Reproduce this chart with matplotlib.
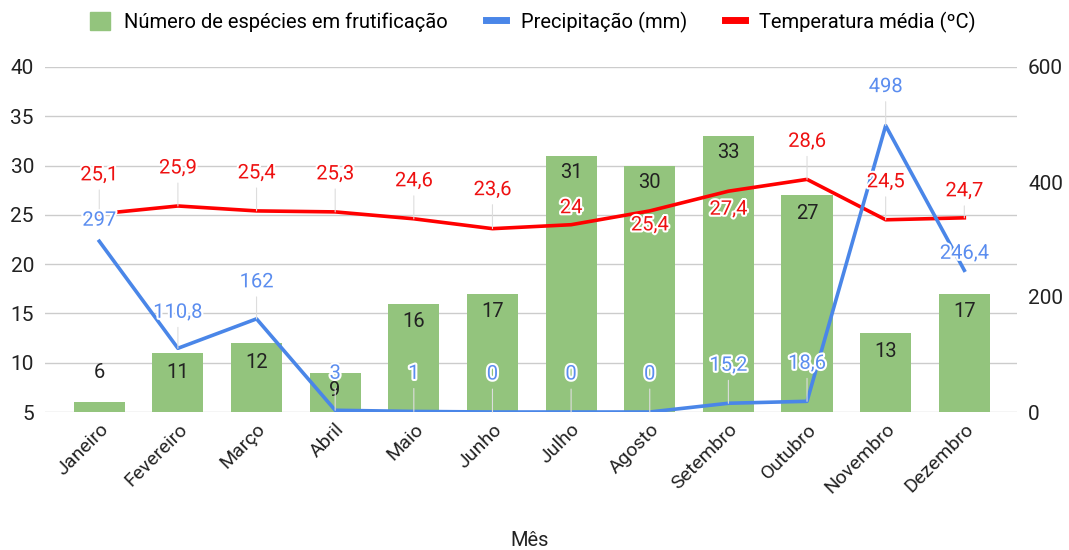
import matplotlib
matplotlib.use("Agg")
import matplotlib.pyplot as plt
import matplotlib.patheffects as pe
from matplotlib.lines import Line2D
from matplotlib.patches import Patch

plt.rcParams['font.family'] = ['Roboto', 'DejaVu Sans']

meses = ["Janeiro", "Fevereiro", "Março", "Abril", "Maio", "Junho", "Julho",
         "Agosto", "Setembro", "Outubro", "Novembro", "Dezembro"]
especies = [6, 11, 12, 9, 16, 17, 31, 30, 33, 27, 13, 17]
precipitacao = [297, 110.8, 162, 3, 1, 0, 0, 0, 15.2, 18.6, 498, 246.4]
temperatura = [25.1, 25.9, 25.4, 25.3, 24.6, 23.6, 24, 25.4, 27.4, 28.6, 24.5, 24.7]

# label offsets (pixels, positive = up)
off_bar = [30, -20, -20, -18, -18, -18, -17, -17, -17, -18, -18, -18]
off_temp = [39, 38, 38, 38, 38, 39, 17, -14, -18, 38, 38, 27]
off_prec = [21, 36, 37, 37, 38, 38, 38, 38, 38, 38, 39, 17]

GREEN = '#93c47d'
BLUE = '#4a86e8'
RED = '#ff0000'
GRID = '#cccccc'
FS = 14.5

fig = plt.figure(figsize=(10.69, 5.5), dpi=100)
ax = fig.add_axes([45/1069, (550-412)/550, (1017-45)/1069, (412-67)/550])
ax2 = ax.twinx()

x = list(range(len(meses)))
ax.bar(x, [e - 5 for e in especies], bottom=5, width=0.65, color=GREEN, zorder=2)
ax.plot(x, temperatura, color=RED, lw=2.6, zorder=4, solid_joinstyle='round')
ax2.plot(x, precipitacao, color=BLUE, lw=2.6, zorder=4, solid_joinstyle='round')

ax.set_ylim(5, 40)
ax2.set_ylim(0, 600)
ax.set_xlim(-0.69, 11.67)
ax.set_yticks(range(5, 41, 5))
ax2.set_yticks([0, 200, 400, 600])
ax.grid(axis='y', color=GRID, lw=1, zorder=0)
ax.set_axisbelow(True)
for a in (ax, ax2):
    for s in a.spines.values():
        s.set_visible(False)
    a.tick_params(length=0, labelsize=15, colors='#222222')
ax.tick_params(axis='y', pad=8)
ax2.tick_params(axis='y', pad=8)
ax.set_xticks(x)
ax.set_xticklabels(meses, rotation=45, ha='right', rotation_mode='anchor', fontsize=14)
ax.tick_params(axis='x', pad=6)
ax.set_xlabel('Mês', fontsize=14.5, color='#222222')
ax.xaxis.set_label_coords((530 - 45) / 972, (412 - 540) / 345)
ax.xaxis.label.set_va('center')

halo = [pe.withStroke(linewidth=3, foreground='white')]

def fmt(v):
    return ('%g' % v).replace('.', ',')

# bar labels
for xi, v, o in zip(x, especies, off_bar):
    ax2.annotate(str(v), (xi, v), xycoords=ax.transData, xytext=(0, o),
                 textcoords='offset pixels', ha='center', va='center',
                 fontsize=FS, color='#222222', zorder=6)

# temperature labels
for xi, v, o in zip(x, temperatura, off_temp):
    ax2.annotate(fmt(v), (xi, v), xycoords=ax.transData, xytext=(0, o),
                 textcoords='offset pixels', ha='center', va='center',
                 fontsize=FS, color='#ee1111', zorder=7, path_effects=halo,
                 arrowprops=dict(arrowstyle='-', color='#dddddd', lw=0.8,
                                 shrinkA=2, shrinkB=0) if o > 25 else None)

# precipitation labels
for xi, v, o in zip(x, precipitacao, off_prec):
    ax2.annotate(fmt(v), (xi, v), xytext=(0, o), textcoords='offset pixels',
                 ha='center', va='center', fontsize=FS, color='#5b8def',
                 zorder=7, path_effects=halo,
                 arrowprops=dict(arrowstyle='-', color='#dddddd', lw=0.8,
                                 shrinkA=2, shrinkB=0) if o > 25 else None)

handles = [Patch(color=GREEN, label='Número de espécies em frutificação'),
           Line2D([0], [0], color=BLUE, lw=5, label='Precipitação (mm)'),
           Line2D([0], [0], color=RED, lw=5, label='Temperatura média (ºC)')]
fig.legend(handles=handles, loc='center', bbox_to_anchor=(533/1069, 1 - 22/550),
           ncol=3, frameon=False, fontsize=14.5, handlelength=1.0, handleheight=1.0,
           columnspacing=1.9, handletextpad=0.7)

fig.savefig('out.png', dpi=100)
